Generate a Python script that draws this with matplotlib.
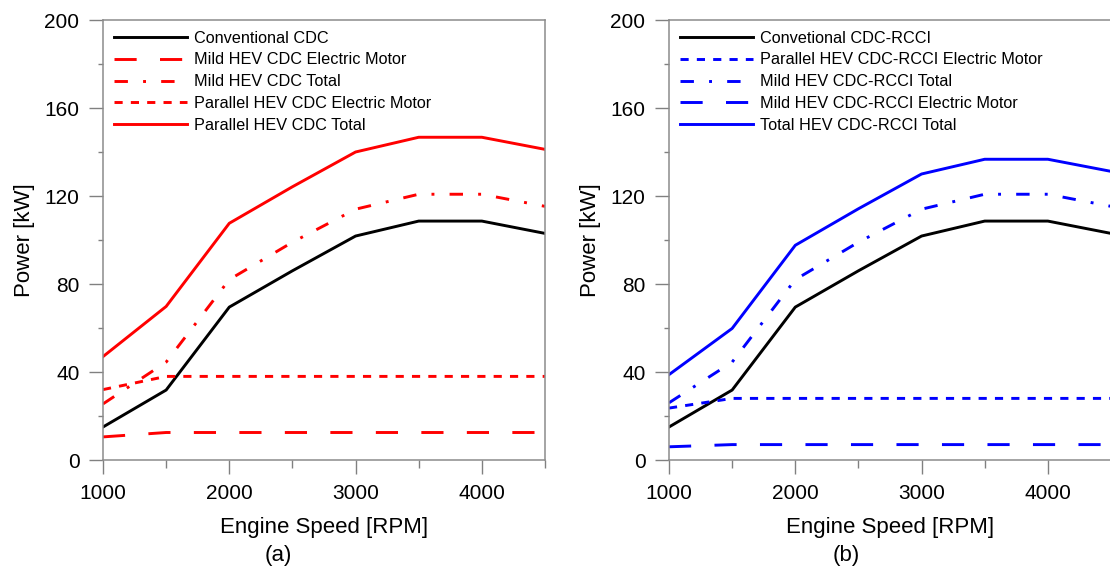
import matplotlib
matplotlib.use("Agg")
import matplotlib.pyplot as plt
from matplotlib.ticker import MultipleLocator

plt.rcParams['font.family'] = ['Liberation Sans', 'DejaVu Sans']

rpm = [1000, 1500, 2000, 2500, 3000, 3500, 4000, 4500]

# (a) CDC
conv_cdc = [15, 31.8, 69.5, 86, 101.8, 108.6, 108.6, 103]
mild_cdc_em = [10.5, 12.5, 12.5, 12.5, 12.5, 12.5, 12.5, 12.5]
mild_cdc_total = [25.5, 44.5, 82, 99, 114, 120.8, 120.8, 115.3]
par_cdc_em = [32, 38, 38, 38, 38, 38, 38, 38]
par_cdc_total = [47, 69.8, 107.6, 124.2, 140, 146.7, 146.7, 141.2]

# (b) CDC-RCCI
conv_rcci = [15, 31.8, 69.5, 86, 101.8, 108.6, 108.6, 103]
par_rcci_em = [23.6, 28, 28, 28, 28, 28, 28, 28]
mild_rcci_total = [26, 44.5, 82, 99, 114, 120.8, 120.8, 115.3]
mild_rcci_em = [6, 7, 7, 7, 7, 7, 7, 7]
total_rcci = [38.8, 59.8, 97.6, 114.2, 130, 136.7, 136.7, 131.2]

LW = 2.1
SOLID = '-'
DASHED = (0, (7.6, 8))
DASHDOT = (0, (4.6, 5.2, 1, 5.2))
DOTTED = (0, (2.8, 2.8))

fig = plt.figure(figsize=(11.10, 5.66), dpi=100)
W, H = 1110, 566
ax1 = fig.add_axes([103 / W, 1 - 460 / H, 442 / W, 440 / H])
ax2 = fig.add_axes([669 / W, 1 - 460 / H, 442 / W, 440 / H])

ax1.plot(rpm, conv_cdc, color='black', lw=LW, ls=SOLID, label='Conventional CDC')
ax1.plot(rpm, mild_cdc_em, color='red', lw=LW, ls=DASHED, label='Mild HEV CDC Electric Motor')
ax1.plot(rpm, mild_cdc_total, color='red', lw=LW, ls=DASHDOT, label='Mild HEV CDC Total')
ax1.plot(rpm, par_cdc_em, color='red', lw=LW, ls=DOTTED, label='Parallel HEV CDC Electric Motor')
ax1.plot(rpm, par_cdc_total, color='red', lw=LW, ls=SOLID, label='Parallel HEV CDC Total')

ax2.plot(rpm, conv_rcci, color='black', lw=LW, ls=SOLID, label='Convetional CDC-RCCI')
ax2.plot(rpm, par_rcci_em, color='blue', lw=LW, ls=DOTTED, label='Parallel HEV CDC-RCCI Electric Motor')
ax2.plot(rpm, mild_rcci_total, color='blue', lw=LW, ls=DASHDOT, label='Mild HEV CDC-RCCI Total')
ax2.plot(rpm, mild_rcci_em, color='blue', lw=LW, ls=DASHED, label='Mild HEV CDC-RCCI Electric Motor')
ax2.plot(rpm, total_rcci, color='blue', lw=LW, ls=SOLID, label='Total HEV CDC-RCCI Total')

for ax in (ax1, ax2):
    ax.set_xlim(1000, 4500)
    ax.set_ylim(0, 200)
    ax.xaxis.set_major_locator(MultipleLocator(1000))
    ax.xaxis.set_minor_locator(MultipleLocator(500))
    ax.yaxis.set_major_locator(MultipleLocator(40))
    ax.yaxis.set_minor_locator(MultipleLocator(20))
    ax.tick_params(which='major', direction='out', length=10, width=1, color='#808080',
                   labelsize=15, pad=7)
    ax.tick_params(axis='x', which='minor', direction='out', length=5.5, width=1, color='#808080')
    ax.tick_params(axis='y', which='minor', direction='out', length=3.8, width=1, color='#808080')
    ax.tick_params(top=False, right=False)
    for sp in ax.spines.values():
        sp.set_color('#8c8c8c')
        sp.set_linewidth(1.1)
    ax.set_xlabel('Engine Speed [RPM]', fontsize=16, labelpad=10)
    ax.set_ylabel('Power [kW]', fontsize=16, labelpad=7)
    ax.legend(loc='upper left', frameon=False, fontsize=11.7, handlelength=4.5,
              handletextpad=0.45, labelspacing=0.42, borderaxespad=0.3,
              borderpad=0.35)

fig.text(278 / W, 1 - 555 / H, '(a)', fontsize=16, ha='center', va='center')
fig.text(846 / W, 1 - 555 / H, '(b)', fontsize=16, ha='center', va='center')

fig.savefig('out.png', dpi=100)
